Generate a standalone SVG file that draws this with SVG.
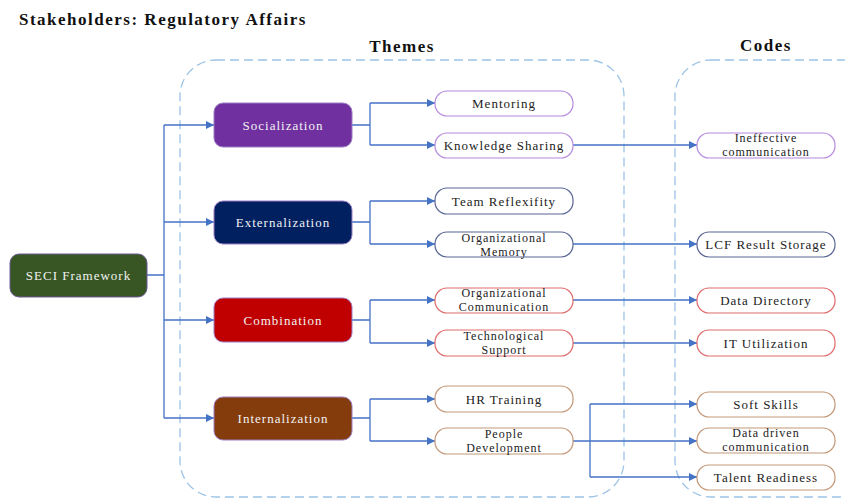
<svg xmlns="http://www.w3.org/2000/svg" width="845" height="498" viewBox="0 0 845 498">
<style>
.t{font-family:"Liberation Serif","Times New Roman",serif;font-size:13px;letter-spacing:1px;text-anchor:middle;fill:#222}
.s{font-size:12px}
.w{fill:#F2F2F2}
.h{font-family:"Liberation Serif","Times New Roman",serif;font-size:17px;font-weight:bold;letter-spacing:1.5px;fill:#111}
.box{fill:none;stroke:#9DC3E6;stroke-width:1.3;stroke-dasharray:9 5}
.ph{stroke:#9C7FC4;stroke-width:1}
.c{fill:#fff;stroke-width:1.2}
.pu{stroke:#B68ADF}.nv{stroke:#5A6795}.rd{stroke:#E06B6B}.br{stroke:#C49878}
.ln{fill:none;stroke:#4472C4;stroke-width:1.3}
</style>
<defs>
<marker id="ar" markerUnits="userSpaceOnUse" markerWidth="9" markerHeight="8" refX="8" refY="4" orient="auto">
<path d="M0,0 L8,4 L0,8 Z" fill="#4472C4"/>
</marker>
</defs>
<rect width="845" height="498" fill="#fff"/>
<text class="h" x="19" y="25">Stakeholders: Regulatory Affairs</text>
<text class="h" x="402" y="52" text-anchor="middle">Themes</text>
<text class="h" x="766" y="51" text-anchor="middle">Codes</text>
<rect class="box" x="180" y="60" width="444" height="437" rx="36"/>
<rect class="box" x="675" y="60" width="220" height="437" rx="36"/>
<g id="connectors">
<path class="ln" d="M147,275 H164 M164,125 V418"/>
<path class="ln" marker-end="url(#ar)" d="M164,125 H214"/>
<path class="ln" marker-end="url(#ar)" d="M164,222 H214"/>
<path class="ln" marker-end="url(#ar)" d="M164,320 H214"/>
<path class="ln" marker-end="url(#ar)" d="M164,418 H214"/>
<path class="ln" d="M352,125 H370 M370,103 V145 M352,222 H370 M370,201 V244 M352,320 H370 M370,300 V343 M352,418 H370 M370,399 V441"/>
<path class="ln" marker-end="url(#ar)" d="M370,103 H435"/>
<path class="ln" marker-end="url(#ar)" d="M370,145 H435"/>
<path class="ln" marker-end="url(#ar)" d="M370,201 H435"/>
<path class="ln" marker-end="url(#ar)" d="M370,244 H435"/>
<path class="ln" marker-end="url(#ar)" d="M370,300 H435"/>
<path class="ln" marker-end="url(#ar)" d="M370,343 H435"/>
<path class="ln" marker-end="url(#ar)" d="M370,399 H435"/>
<path class="ln" marker-end="url(#ar)" d="M370,441 H435"/>
<path class="ln" marker-end="url(#ar)" d="M573,145 H697"/>
<path class="ln" marker-end="url(#ar)" d="M573,244 H697"/>
<path class="ln" marker-end="url(#ar)" d="M573,300 H697"/>
<path class="ln" marker-end="url(#ar)" d="M573,343 H697"/>
<path class="ln" d="M573,441 H590 M590,404 V477"/>
<path class="ln" marker-end="url(#ar)" d="M590,404 H697"/>
<path class="ln" marker-end="url(#ar)" d="M590,441 H697"/>
<path class="ln" marker-end="url(#ar)" d="M590,477 H697"/>
</g>
<g id="seci"><rect x="10" y="254" width="137" height="43" rx="9" fill="#375623" stroke="#6B5B95"/><text class="t w" x="78.5" y="279.5">SECI Framework</text></g>
<g id="socialization"><rect class="ph" x="214" y="103" width="138" height="44" rx="9" fill="#7030A0"/><text class="t w" x="283" y="129.5">Socialization</text></g>
<g id="externalization"><rect class="ph" x="214" y="201" width="138" height="43" rx="9" fill="#002060"/><text class="t w" x="283" y="227">Externalization</text></g>
<g id="combination"><rect class="ph" x="214" y="298" width="138" height="44" rx="9" fill="#C00000"/><text class="t w" x="283" y="324.5">Combination</text></g>
<g id="internalization"><rect class="ph" x="214" y="397" width="138" height="43" rx="9" fill="#843C0C"/><text class="t w" x="283" y="423">Internalization</text></g>
<g id="mentoring"><rect class="c pu" x="435" y="91" width="138" height="25" rx="12"/><text class="t" x="504" y="108">Mentoring</text></g>
<g id="knowledge-sharing"><rect class="c pu" x="435" y="133" width="138" height="25" rx="12"/><text class="t" x="504" y="150">Knowledge Sharing</text></g>
<g id="team-reflexifity"><rect class="c nv" x="435" y="188" width="138" height="26" rx="12"/><text class="t" x="504" y="205.5">Team Reflexifity</text></g>
<g id="organizational-memory"><rect class="c nv" x="435" y="232" width="138" height="25" rx="12"/><text class="t s" x="504" y="242">Organizational</text><text class="t s" x="504" y="256">Memory</text></g>
<g id="organizational-communication"><rect class="c rd" x="435" y="288" width="138" height="25" rx="12"/><text class="t s" x="504" y="297">Organizational</text><text class="t s" x="504" y="311">Communication</text></g>
<g id="technological-support"><rect class="c rd" x="435" y="330" width="138" height="26" rx="12"/><text class="t s" x="504" y="340">Technological</text><text class="t s" x="504" y="354">Support</text></g>
<g id="hr-training"><rect class="c br" x="435" y="386" width="138" height="26" rx="12"/><text class="t" x="504" y="403.5">HR Training</text></g>
<g id="people-development"><rect class="c br" x="435" y="428" width="138" height="26" rx="12"/><text class="t s" x="504" y="438">People</text><text class="t s" x="504" y="452">Development</text></g>
<g id="ineffective-communication"><rect class="c pu" x="697" y="133" width="138" height="25" rx="12"/><text class="t s" x="766" y="142">Ineffective</text><text class="t s" x="766" y="156">communication</text></g>
<g id="lcf-result-storage"><rect class="c nv" x="697" y="232" width="138" height="25" rx="12"/><text class="t" x="766" y="249">LCF Result Storage</text></g>
<g id="data-directory"><rect class="c rd" x="697" y="288" width="138" height="25" rx="12"/><text class="t" x="766" y="305">Data Directory</text></g>
<g id="it-utilization"><rect class="c rd" x="697" y="330" width="138" height="26" rx="12"/><text class="t" x="766" y="347.5">IT Utilization</text></g>
<g id="soft-skills"><rect class="c br" x="697" y="392" width="138" height="25" rx="12"/><text class="t" x="766" y="409">Soft Skills</text></g>
<g id="data-driven-communication"><rect class="c br" x="697" y="428" width="138" height="25" rx="12"/><text class="t s" x="766" y="437">Data driven</text><text class="t s" x="766" y="451">communication</text></g>
<g id="talent-readiness"><rect class="c br" x="697" y="465" width="138" height="25" rx="12"/><text class="t" x="766" y="482">Talent Readiness</text></g>
</svg>
